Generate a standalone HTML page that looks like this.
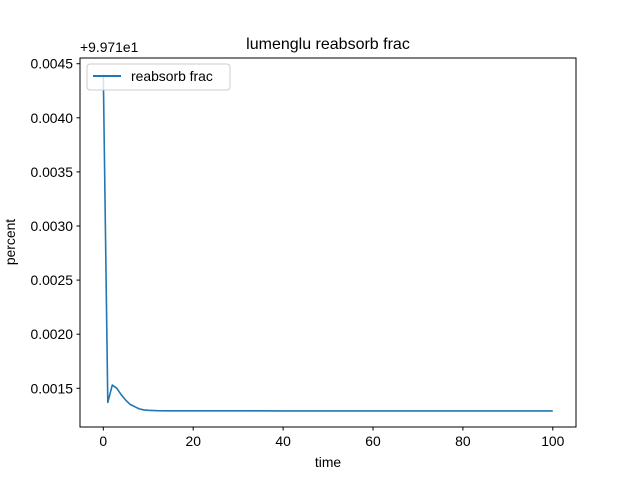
<!DOCTYPE html>
<html><head><meta charset="utf-8"><style>
body{margin:0;background:#fff;font-family:"Liberation Sans","DejaVu Sans",sans-serif}
</style></head><body>
<svg width="640" height="480" xmlns="http://www.w3.org/2000/svg" font-family="Liberation Sans, DejaVu Sans, sans-serif">
<rect x="0" y="0" width="640" height="480" fill="#fff"/>
<text x="328" y="49" font-size="16" text-anchor="middle">lumenglu reabsorb frac</text>
<g id="plot"></g>
<rect x="80" y="58" width="496" height="369" fill="none" stroke="#000" stroke-width="1"/>
<text x="80" y="52" font-size="13.9">+9.971e1</text>
<text x="328" y="467" font-size="13.9" text-anchor="middle">time</text>
<text x="15" y="242" font-size="13.9" text-anchor="middle" transform="rotate(-90 15 242)">percent</text>
<g>
<rect x="87" y="64" width="143" height="26" rx="3" fill="#fff" fill-opacity="0.8" stroke="#ccc"/>
<line x1="93" y1="76" x2="121" y2="76" stroke="#1f77b4" stroke-width="2"/>
<text x="131" y="81" font-size="13.9">reabsorb frac</text>
</g>
</svg>
<script>
const times=[0,1,2,3,4,5,6,7,8,9,10,12,14,16,20,30,40,60,80,100];
const values=[0.00440,0.00137,0.00153,0.00150,0.00144,0.00139,0.00135,0.00133,0.00131,0.00130,0.001297,0.001293,0.001292,0.001292,0.001292,0.001292,0.001291,0.001291,0.001291,0.001291];
const xTicks=[0,20,40,60,80,100];
const yTicks=[0.0015,0.0020,0.0025,0.0030,0.0035,0.0040,0.0045];
const yTickLabels=["0.0015","0.0020","0.0025","0.0030","0.0035","0.0040","0.0045"];
const NS="http://www.w3.org/2000/svg";
const xs=v=>103.3+v*4.495;
const ys=v=>388.3-(v-0.0015)*108200;
const g=document.getElementById('plot');
function mk(t,a){const e=document.createElementNS(NS,t);for(const k in a)e.setAttribute(k,a[k]);g.appendChild(e);return e;}
xTicks.forEach(v=>{
 const l=mk('line',{x1:xs(v),x2:xs(v),y1:427,y2:430.5,stroke:'#000'});
 
 
 const t=mk('text',{x:xs(v),y:446,'font-size':13.9,'text-anchor':'middle'});t.textContent=v;
 
 
});
yTicks.forEach((v,i)=>{
 const l=mk('line',{x1:76.5,x2:80,y1:ys(v),y2:ys(v),stroke:'#000'});
 
 
 const t=mk('text',{x:73,y:ys(v)+5,'font-size':13.9,'text-anchor':'end'});t.textContent=yTickLabels[i];
 
 
});
const p=mk('polyline',{points:times.map((t,i)=>xs(t)+','+ys(values[i])).join(' '),fill:'none',stroke:'#1f77b4','stroke-width':1.6,'stroke-linejoin':'round'});


</script>
</body></html>
